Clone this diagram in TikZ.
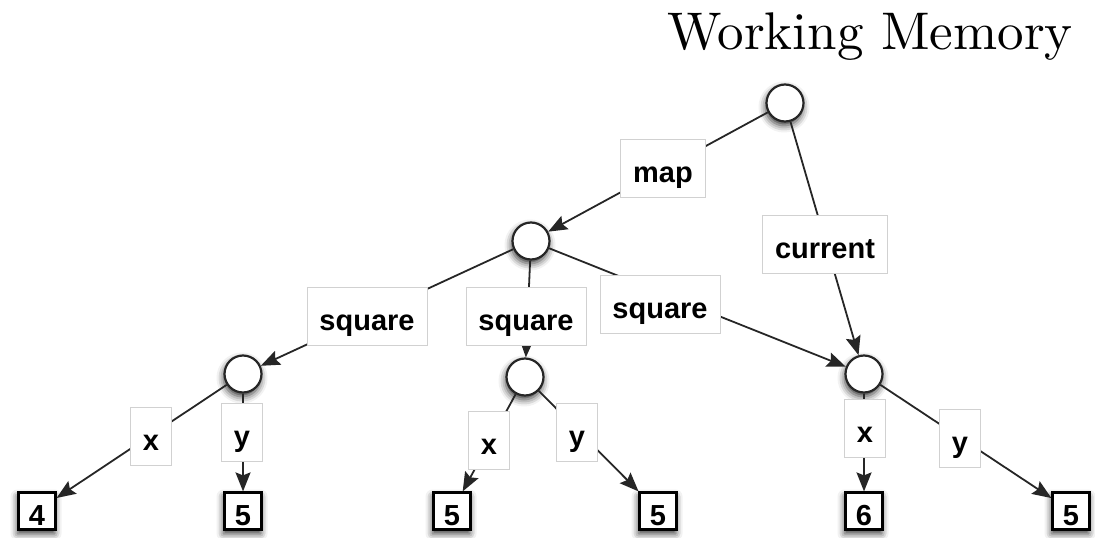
\documentclass[tikz,border=0pt]{standalone}
\usepackage{fontspec}
\newfontfamily\labfont{Liberation Sans}
\newfontfamily\titlefont{lmroman10-regular.otf}
\usetikzlibrary{arrows.meta,shadows.blur}

\begin{document}
\begin{tikzpicture}[x=1pt,y=-1pt,
  softshadow/.style={blur shadow={shadow xshift=-1pt,shadow yshift=-4pt,
      shadow blur radius=7pt,shadow opacity=80}},
  obj/.style={circle,draw=black!85,line width=2.2pt,fill=white,
      minimum size=37pt,inner sep=0pt,softshadow},
  val/.style={draw=black,line width=2.2pt,fill=white,
      minimum width=37pt,minimum height=37pt,inner sep=0pt,
      text height=28pt,text depth=0pt,
      font=\labfont\bfseries\fontsize{29}{34}\selectfont,softshadow},
  lab/.style={draw=black!18,line width=0.8pt,fill=white,
      minimum height=58pt,inner xsep=12.5pt,inner ysep=0pt,
      text height=30pt,text depth=2pt,
      font=\labfont\bfseries\fontsize{29}{34}\selectfont},
  edge/.style={line width=1.8pt,draw=black!85,
      -{Stealth[length=19pt,width=15pt,inset=3pt]}}
]
\useasboundingbox (0,0) rectangle (1095,538);

% heading
\node[anchor=base east,inner sep=0pt,font=\titlefont\fontsize{53}{62}\selectfont]
  (title) at (1073,49) {Working Memory};

% object nodes
\node[obj] (root)  at (785,103) {};
\node[obj] (map)   at (531,241) {};
\node[obj] (sqA)   at (243,374) {};
\node[obj] (sqB)   at (525,377) {};
\node[obj] (cur)   at (864,374) {};

% value boxes
\node[val] (v4)  at (37,511)   {4};
\node[val] (v5a) at (243,511)  {5};
\node[val] (v5b) at (452,511)  {5};
\node[val] (v5c) at (658,511)  {5};
\node[val] (v6)  at (864,511)  {6};
\node[val] (v5d) at (1071,511) {5};

% connectors
\draw[edge] (root) -- (map);
\draw[edge] (root) -- (cur);
\draw[edge] (map) -- (sqA);
\draw[edge] (map) -- (sqB);
\draw[edge] (map) -- (cur);
\draw[edge] (sqA) -- (v4);
\draw[edge] (sqA) -- (v5a);
\draw[edge] (sqB) -- (v5b);
\draw[edge] (sqB) -- (v5c);
\draw[edge] (cur) -- (v6);
\draw[edge] (cur) -- (v5d);

% connector labels
\node[lab] (lmap)  at (663,168) {map};
\node[lab] (lcur)  at (825,244) {current};
\node[lab] (lsqA)  at (367,316) {square};
\node[lab] (lsqB)  at (526,316) {square};
\node[lab] (lsqC)  at (660,304) {square};
\node[lab] (lxA)   at (151,436) {x};
\node[lab] (lyA)   at (242,432) {y};
\node[lab] (lxB)   at (489,440) {x};
\node[lab] (lyB)   at (577,432) {y};
\node[lab] (lxC)   at (865,428) {x};
\node[lab] (lyC)   at (960,438) {y};
\end{tikzpicture}
\end{document}
